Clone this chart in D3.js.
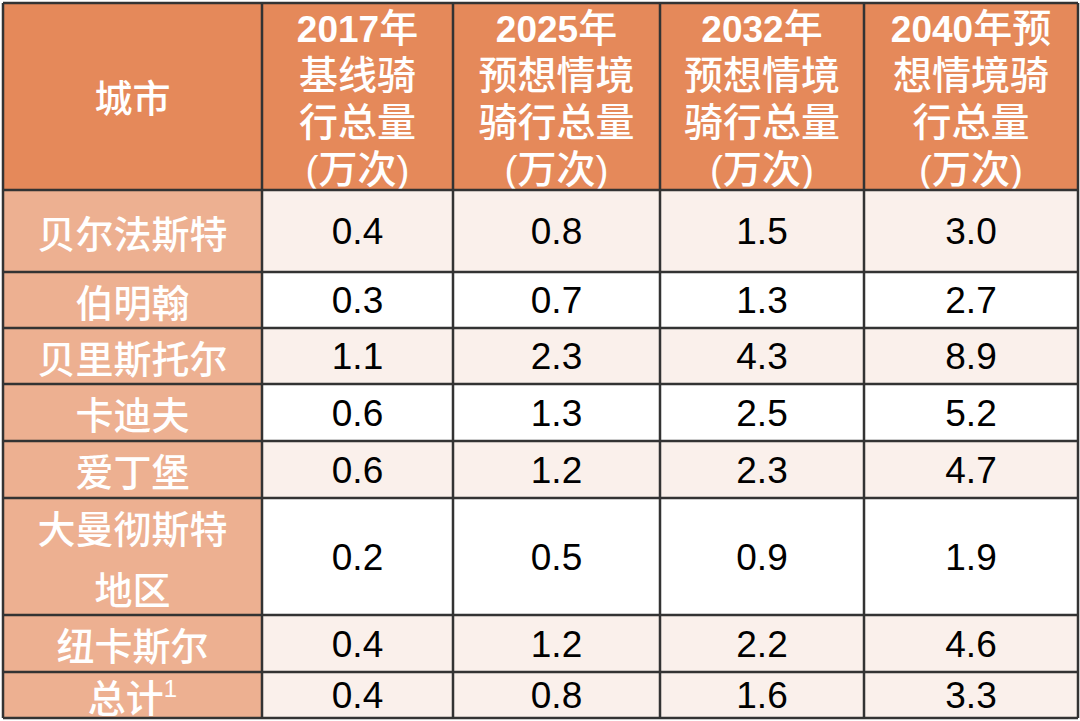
<!DOCTYPE html>
<html><head><meta charset="utf-8">
<script src="https://cdn.jsdelivr.net/npm/d3@7"></script>
<style>
html,body{margin:0;padding:0;background:#fff;}
svg{display:block;}
</style></head>
<body>
<svg id="chart" width="1080" height="721"></svg>
<script>
// ---- data ----
const cities = ["贝尔法斯特", "伯明翰", "贝里斯托尔", "卡迪夫", "爱丁堡", "大曼彻斯特地区", "纽卡斯尔", "总计"];
const cityLines = [["贝尔法斯特"], ["伯明翰"], ["贝里斯托尔"], ["卡迪夫"], ["爱丁堡"], ["大曼彻斯特", "地区"], ["纽卡斯尔"], ["总计"]];
const citySup = ["", "", "", "", "", "", "", "1"];
const headerCity = ["城市"];
const header2017 = ["2017年", "基线骑", "行总量", "(万次)"];
const header2025 = ["2025年", "预想情境", "骑行总量", "(万次)"];
const header2032 = ["2032年", "预想情境", "骑行总量", "(万次)"];
const header2040 = ["2040年预", "想情境骑", "行总量", "(万次)"];
const v2017 = [0.4, 0.3, 1.1, 0.6, 0.6, 0.2, 0.4, 0.4];
const v2025 = [0.8, 0.7, 2.3, 1.3, 1.2, 0.5, 1.2, 0.8];
const v2032 = [1.5, 1.3, 4.3, 2.5, 2.3, 0.9, 2.2, 1.6];
const v2040 = [3.0, 2.7, 8.9, 5.2, 4.7, 1.9, 4.6, 3.3];

// ---- layout ----
const xEdges = [3, 262, 453, 660, 864, 1078];
const yEdges = [3, 190, 272, 328, 384, 441, 498, 615, 672, 718];
const headerFill = "#E5895A", cityFill = "#EDB091", lightFill = "#FAF0EB", whiteFill = "#FFFFFF";
const rowFills = [lightFill, whiteFill, lightFill, whiteFill, lightFill, whiteFill, lightFill, lightFill];
const font = "'Liberation Sans', Arial, 'Noto Sans CJK SC', sans-serif";

const svg = d3.select("#chart");
const colIdx = d3.range(5);
const rowIdx = d3.range(cities.length);
const xBand = i => xEdges[i], wBand = i => xEdges[i+1] - xEdges[i];
const yRow = i => yEdges[i+1], hRow = i => yEdges[i+2] - yEdges[i+1];

const series = [v2017, v2025, v2032, v2040];
const headers = [headerCity, header2017, header2025, header2032, header2040];
const fmt = d3.format(".1f");

// header cells
svg.append("g").selectAll("rect").data(colIdx).join("rect")
  .attr("x", xBand).attr("y", yEdges[0]).attr("width", wBand).attr("height", yEdges[1]-yEdges[0])
  .attr("fill", headerFill);

// city cells
svg.append("g").selectAll("rect").data(rowIdx).join("rect")
  .attr("x", xEdges[0]).attr("y", yRow).attr("width", wBand(0)).attr("height", hRow)
  .attr("fill", cityFill);

// data cells
const cells = [];
rowIdx.forEach(r => series.forEach((s, c) => cells.push({r, c: c+1, v: s[r]})));
svg.append("g").selectAll("rect").data(cells).join("rect")
  .attr("x", d => xBand(d.c)).attr("y", d => yRow(d.r)).attr("width", d => wBand(d.c)).attr("height", d => hRow(d.r))
  .attr("fill", d => rowFills[d.r]);

// header text
const hg = svg.append("g").attr("font-family", font).attr("fill", "#fff").attr("text-anchor", "middle");
headers.forEach((lines, c) => {
  const cx = xBand(c) + wBand(c)/2;
  const lh = 47;
  const cy = (yEdges[0] + yEdges[1]) / 2 + 2;
  lines.forEach((ln, i) => {
    const t = hg.append("text").attr("x", cx).attr("y", cy + (i - (lines.length-1)/2) * lh)
      .attr("dy", "0.36em").attr("font-size", c === 0 ? 38 : 39);
    const runs = ln.match(/[0-9]+|[^0-9]+/g);
    runs.forEach(run => {
      const isNum = /^[0-9]+$/.test(run);
      t.append("tspan").attr("font-weight", isNum ? "bold" : 500)
        .attr("font-size", isNum ? 37 : null).text(run);
    });
  });
});

// city text
const cg = svg.append("g").attr("font-family", font).attr("fill", "#fff").attr("text-anchor", "middle");
rowIdx.forEach(r => {
  const lines = cityLines[r];
  const cx = xBand(0) + wBand(0)/2;
  const cy = yRow(r) + hRow(r)/2 + 3;
  const lh = 61;
  lines.forEach((ln, i) => {
    const t = cg.append("text").attr("x", cx).attr("y", cy + (i - (lines.length-1)/2) * lh)
      .attr("dy", "0.36em").attr("font-size", 38).attr("font-weight", 500).text(ln);
    if (i === lines.length - 1 && citySup[r]) {
      t.append("tspan").attr("font-size", 24).attr("dy", "-0.6em").text(citySup[r]);
    }
  });
});

// values
svg.append("g").attr("font-family", font).attr("fill", "#000").attr("text-anchor", "middle")
  .selectAll("text").data(cells).join("text")
  .attr("x", d => xBand(d.c) + wBand(d.c)/2)
  .attr("y", d => yRow(d.r) + hRow(d.r)/2)
  .attr("dy", "0.36em").attr("font-size", 37)
  .text(d => fmt(d.v));

// grid lines
const lg = svg.append("g").attr("stroke", "#333").attr("stroke-width", 2.5);
lg.selectAll("line.v").data(xEdges).join("line").attr("class", "v")
  .attr("x1", d => d).attr("x2", d => d).attr("y1", yEdges[0]).attr("y2", yEdges[yEdges.length-1]);
lg.selectAll("line.h").data(yEdges).join("line").attr("class", "h")
  .attr("y1", d => d).attr("y2", d => d).attr("x1", xEdges[0]).attr("x2", xEdges[xEdges.length-1]);
</script>
</body></html>
